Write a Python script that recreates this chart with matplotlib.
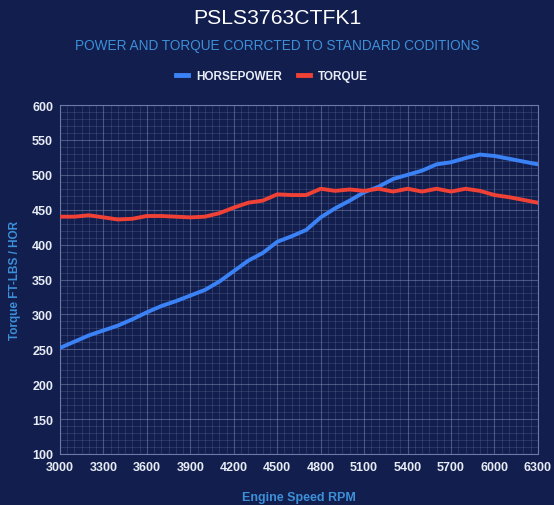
import matplotlib
matplotlib.use("Agg")
import matplotlib.pyplot as plt
from matplotlib.ticker import MultipleLocator
from matplotlib.lines import Line2D

rpm = list(range(3000, 6301, 100))
horsepower = [252, 261, 270, 277, 284, 293, 303, 312, 319, 327, 335, 347, 362, 377,
              388, 404, 412, 421, 439, 452, 463, 475, 483, 494, 500, 506, 515, 518,
              524, 529, 527, 523, 519, 515]
torque = [440, 440, 442, 439, 436, 437, 441, 441, 440, 439, 440, 445, 453, 460,
          463, 472, 471, 471, 480, 477, 479, 477, 480, 476, 480, 476, 480, 476,
          480, 477, 471, 468, 464, 460]
x_ticks = list(range(3000, 6301, 300))
series_names = ["HORSEPOWER", "TORQUE"]

BG = "#111e4e"
HP_C = "#3b82f6"
TQ_C = "#ef4136"
LBL_C = "#3d8fd8"

plt.rcParams['font.family'] = ['Liberation Sans', 'DejaVu Sans']

fig = plt.figure(figsize=(5.54, 5.06), dpi=100, facecolor=BG)
ax = fig.add_axes([0.1083, 0.1008, 0.8627, 0.6897], facecolor=BG)

ax.plot(rpm, horsepower, color=HP_C, lw=2.8, solid_joinstyle='round', zorder=3)
ax.plot(rpm, torque, color=TQ_C, lw=2.8, solid_joinstyle='round', zorder=3)

ax.set_xlim(3000, 6300)
ax.set_ylim(100, 600)
ax.set_xticks(x_ticks)
ax.yaxis.set_major_locator(MultipleLocator(50))
ax.xaxis.set_minor_locator(MultipleLocator(50))
ax.yaxis.set_minor_locator(MultipleLocator(10))
ax.grid(which='major', color='#8f9bc0', alpha=0.45, lw=0.8)
ax.grid(which='minor', color='#8f9bc0', alpha=0.2, lw=0.7)
for s in ax.spines.values():
    s.set_color('#6d7aa5')
    s.set_linewidth(0.8)
ax.tick_params(which='both', length=0, colors='#e8ecf5', labelsize=9, pad=5)
for lab in ax.get_xticklabels() + ax.get_yticklabels():
    lab.set_fontweight('bold')

ax.set_xlabel("Engine Speed RPM", color=LBL_C, fontsize=9, fontweight='bold', labelpad=13)
ax.set_ylabel("Torque FT-LBS / HOR", color=LBL_C, fontsize=8.5, fontweight='bold', labelpad=8)

fig.text(0.5, 0.964, "PSLS3763CTFK1", color='white', fontsize=15.2, ha='center', va='center')
fig.text(0.5, 0.909, "POWER AND TORQUE CORRCTED TO STANDARD CODITIONS", color=LBL_C,
         fontsize=9.8, ha='center', va='center')

handles = [Line2D([], [], color=HP_C, lw=3.5), Line2D([], [], color=TQ_C, lw=3.5)]
leg = fig.legend(handles, series_names, loc='center', bbox_to_anchor=(0.491, 0.847),
                 ncol=2, frameon=False, handlelength=1.0, columnspacing=1.35,
                 handletextpad=0.7, prop={'weight': 'bold', 'size': 8.5})
for t in leg.get_texts():
    t.set_color('#e8ecf5')

fig.savefig("out.png", dpi=100, facecolor=BG)
